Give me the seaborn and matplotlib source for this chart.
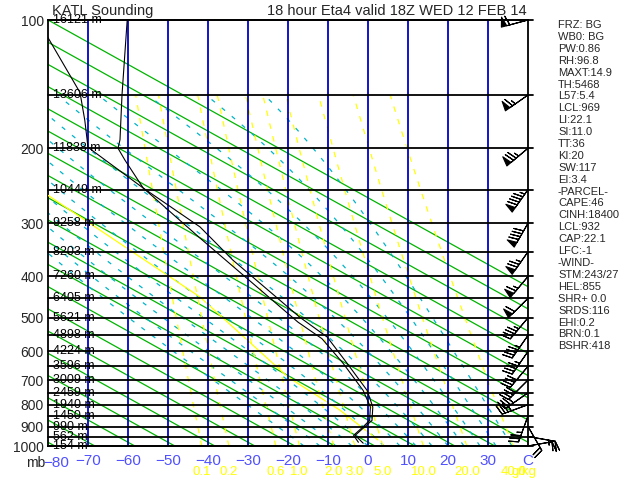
import numpy as np
import pandas as pd
import matplotlib
matplotlib.use("Agg")
import matplotlib.pyplot as plt
import seaborn as sns

# sounding
pres_t = [100, 150, 191, 200, 213, 248, 306, 366, 499, 555, 640, 741, 810, 871, 901, 944, 985]
temp_c = [-60.2, -61.5, -62.0, -62.5, -60.8, -56.2, -42.0, -33.8, -17.0, -10.2, -5.2, -0.2, 1.2, 1.0, -0.8, -3.2, -1.2]
pres_td = [100, 110, 148, 172, 199, 248, 325, 512, 560, 640, 741, 810, 871, 901, 944, 980]
dewp_c = [-84.0, -80.0, -72.0, -70.8, -70.0, -56.2, -42.0, -17.5, -11.5, -6.2, -1.2, 0.6, 0.4, -1.2, -3.6, -2.4]

# yellow parcel trace
parcel_p = [258, 447, 689, 824, 968]
parcel_t = [-80.0, -42.0, -20.0, -7.0, 2.5]

levels = [100, 150, 200, 250, 300, 350, 400, 450, 500, 550, 600, 650, 700, 750, 800, 850, 900, 950, 1000]
heights = ["16121", "13606", "11838", "10449", "9258", "8203", "7260", "6405", "5621", "4898",
           "4224", "3596", "3009", "2459", "1940", "1450", "990", "562", "154"]

wind_dir = [255, 235, 230, 215, 210, 215, 220, 225, 220, 215, 215, 220, 225, 235, 250, 200, 150, 100, 80]
wind_kt = [60, 65, 75, 95, 90, 75, 65, 60, 45, 45, 45, 40, 40, 35, 35, 35, 20, 25, 20]

mix_ratio = [0.1, 0.2, 0.6, 1.0, 2.0, 3.0, 5.0, 10.0, 20.0, 40.0]
mix_labels = ["0.1", "0.2", "0.6", "1.0", "2.0", "3.0", "5.0", "10.0", "20.0", "40.0"]
moist_start = [-16, -12, -8, -4, 0, 4, 8, 12, 16, 20, 24, 28, 32, 36]
dry_start = [111.7 - 10 * i for i in range(20)]

side_text = ["FRZ: BG", "WB0: BG", "PW:0.86", "RH:96.8", "MAXT:14.9", "TH:5468", "L57:5.4",
             "LCL:969", "LI:22.1", "SI:11.0", "TT:36", "KI:20", "SW:117", "EI:3.4", "-PARCEL-",
             "CAPE:46", "CINH:18400", "LCL:932", "CAP:22.1", "LFC:-1", "-WIND-", "STM:243/27",
             "HEL:855", "SHR+ 0.0", "SRDS:116", "EHI:0.2", "BRN:0.1", "BSHR:418"]

sns.set_theme(style="white")
plt.rcParams["font.family"] = ["Liberation Sans", "DejaVu Sans"]

fig = plt.figure(figsize=(6.4, 4.8), dpi=100)
ax = fig.add_axes([48 / 640, 34 / 480, 480 / 640, 426 / 480])
ax.set_yscale("log")
ax.set_ylim(1000, 100)
ax.set_xlim(-80, 40)

pp = np.geomspace(1000, 100, 200)

# straight green lines
for tb in dry_start:
    ax.plot(tb + 83.25 * np.log(pp / 1000), pp, color="#00b400", lw=0.9, zorder=1)

# moist adiabats
def sat_mix(t, p):
    es = 6.112 * np.exp(17.67 * t / (t + 243.5))
    return 0.622 * es / (p - es)

pm = np.geomspace(1000, 150, 300)
for t0 in moist_start:
    tk = t0 + 273.15
    ts = [tk]
    for i in range(1, len(pm)):
        rs = sat_mix(tk - 273.15, pm[i - 1])
        dtdp = (287.0 * tk + 2.5e6 * rs) / (1004.0 + 2.5e6 ** 2 * rs * 0.622 / (287.0 * tk ** 2)) / pm[i - 1]
        tk = tk + dtdp * (pm[i] - pm[i - 1])
        ts.append(tk)
    ax.plot(np.array(ts) - 273.15, pm, color="#00b4c8", lw=0.9, dashes=(3.5, 7), zorder=2)

# mixing ratio lines
for w, lab in zip(mix_ratio, mix_labels):
    e = w * pm / (622.0 + w)
    lg = np.log(e / 6.112)
    ax.plot(243.5 * lg / (17.67 - lg), pm, color="#ffff00", lw=0.9, dashes=(4.5, 6), zorder=2)
    lg0 = np.log(w * 1000 / (622.0 + w) / 6.112)
    ax.text(243.5 * lg0 / (17.67 - lg0), -0.06, lab, color="#ffff00",
            fontsize=9.5, ha="center", va="center", transform=ax.get_xaxis_transform())
ax.text(0.965, -0.06, "g/kg", color="#ffff00", fontsize=9.5, ha="left", va="center",
        transform=ax.transAxes)

ax.plot(parcel_t, parcel_p, color="#ffff00", lw=0.9, zorder=3)

# isotherms
for t in range(-70, 40, 10):
    ax.axvline(t, color="#0000c8", lw=1.3, zorder=3)

# pressure levels with heights
for lev, h in zip(levels, heights):
    ax.plot([-80, 41.3], [lev, lev], color="black", lw=1.3, zorder=4, clip_on=False)
    ax.text(-78.8, lev, h + " m", fontsize=9, va="center", ha="left", color="black", zorder=5)

prof = pd.DataFrame({"p": pres_t, "t": temp_c})
dew = pd.DataFrame({"p": pres_td, "t": dewp_c})
sns.lineplot(data=prof, x="t", y="p", sort=False, estimator=None, color="black", lw=0.8, ax=ax, zorder=6)
sns.lineplot(data=dew, x="t", y="p", sort=False, estimator=None, color="black", lw=0.8, ax=ax, zorder=6)

rad = np.deg2rad(wind_dir)
u = -np.array(wind_kt) * np.sin(rad)
v = -np.array(wind_kt) * np.cos(rad)
ax.barbs(np.full(len(levels), 40.0), levels, u, v, length=6.3, color="black", linewidth=0.8,
         sizes=dict(height=0.35, width=0.2, spacing=0.12), clip_on=False, zorder=7)

ax.set_xticks(range(-70, 41, 10))
ax.set_xticklabels([str(t).replace("-", "\u2212") for t in range(-70, 31, 10)] + ["C"],
                   color="#5050ff", fontsize=11)
ax.text(-78.0, -0.04, "\u221280", color="#5050ff", fontsize=11, ha="center", va="center",
        transform=ax.get_xaxis_transform())
ax.set_yticks([100, 200, 300, 400, 500, 600, 700, 800, 900, 1000])
ax.set_yticklabels(["100", "200", "300", "400", "500", "600", "700", "800", "900", "1000"], fontsize=10)
ax.yaxis.set_minor_locator(matplotlib.ticker.NullLocator())
ax.tick_params(length=0, pad=3)
ax.tick_params(axis="x", pad=6)
ax.set_xlabel("")
ax.set_ylabel("")
for s in ax.spines.values():
    s.set_color("black")
    s.set_linewidth(1.3)

fig.text(26 / 640, 1 - 463 / 480, "mb", fontsize=10, va="center")
fig.text(52 / 640, 1 - 11 / 480, "KATL Sounding", fontsize=10.5, va="center")
fig.text(267 / 640, 1 - 11 / 480, "18 hour Eta4 valid 18Z WED 12 FEB 14", fontsize=10.5, va="center")
for i, s in enumerate(side_text):
    fig.text(558 / 640, 1 - (25 + 11.9 * i) / 480, s, fontsize=8, va="center")

fig.savefig("out.png", dpi=100, facecolor="white")
